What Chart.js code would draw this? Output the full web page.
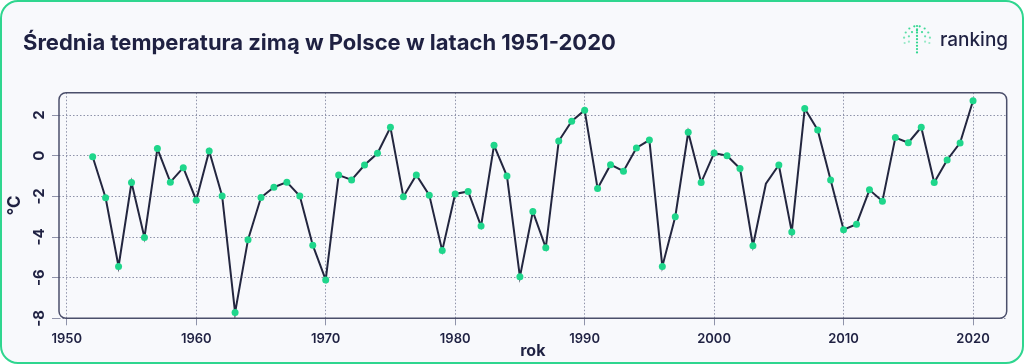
<!DOCTYPE html>
<html>
<head>
<meta charset="utf-8">
<script src="https://cdn.jsdelivr.net/npm/chart.js@4"></script>
<style>
  html, body { margin: 0; padding: 0; background: #ffffff; }
  #card {
    position: absolute; left: 0; top: 0; width: 1020px; height: 360px;
    border: 2px solid #2fd68f; border-radius: 18px; background: #f8f9fc;
  }
  #title {
    position: absolute; left: 23px; top: 29px; margin: 0;
    font-family: Inter, sans-serif; font-weight: 700; font-size: 22px;
    color: #1f2142; letter-spacing: 0; z-index: 2;
  }
  #logo { position: absolute; left: 900px; top: 22px; z-index: 2; }
  #logoText {
    position: absolute; left: 940px; top: 28px; z-index: 2;
    font-family: Inter, sans-serif; font-weight: 500; font-size: 19px; color: #1f2142;
  }
  #myChart { position: absolute; left: 0; top: 0; z-index: 1; }
</style>
</head>
<body>
<div id="card"></div>
<h1 id="title">Średnia temperatura zimą w Polsce w latach 1951-2020</h1>
<svg id="logo" width="36" height="34"></svg>
<div id="logoText">ranking</div>
<canvas id="myChart" width="1024" height="364"></canvas>
<script>
// Winter mean temperature in Poland
const years = [
  1952, 1953, 1954, 1955, 1956, 1957, 1958, 1959, 1960, 1961,
  1962, 1963, 1964, 1965, 1966, 1967, 1968, 1969, 1970, 1971,
  1972, 1973, 1974, 1975, 1976, 1977, 1978, 1979, 1980, 1981,
  1982, 1983, 1984, 1985, 1986, 1987, 1988, 1989, 1990, 1991,
  1992, 1993, 1994, 1995, 1996, 1997, 1998, 1999, 2000, 2001,
  2002, 2003, 2004, 2005, 2006, 2007, 2008, 2009, 2010, 2011,
  2012, 2013, 2014, 2015, 2016, 2017, 2018, 2019, 2020
];
const temps = [
  -0.05, -2.07, -5.45, -1.32, -4.02, 0.35, -1.30, -0.59, -2.19, 0.23,
  -1.98, -7.72, -4.13, -2.06, -1.55, -1.30, -1.98, -4.40, -6.11, -0.95,
  -1.19, -0.46, 0.12, 1.40, -2.02, -0.95, -1.94, -4.67, -1.88, -1.76,
  -3.46, 0.51, -1.00, -5.96, -2.75, -4.53, 0.72, 1.70, 2.24, -1.61,
  -0.44, -0.76, 0.38, 0.77, -5.45, -3.00, 1.15, -1.32, 0.13, 0.00,
  -0.63, -4.43, -1.38, -0.46, -3.75, 2.32, 1.27, -1.19, -3.64, -3.37,
  -1.68, -2.24, 0.89, 0.64, 1.40, -1.32, -0.21, 0.63, 2.70
];
const noMarkerYears = [2004]; // no dot drawn on the reference
const xTicks = [1950, 1960, 1970, 1980, 1990, 2000, 2010, 2020];
const yTicks = [-8, -6, -4, -2, 0, 2];

const navy = '#1f2142';

// logo: dotted fountain
const svg = document.getElementById('logo');
let dots = '';
for (let i = 0; i < 9; i++) dots += `<circle cx="17" cy="${4 + i * 3.3}" r="1.1" fill="#2fd68f"/>`;
[[13, 9], [8.5, 6]].forEach(([r, n]) => {
    for (let k = 0; k <= n; k++) {
        const a = Math.PI * (1.1 - 1.2 * k / n);
        dots += `<circle cx="${17 + r * Math.cos(a)}" cy="${17 - r * Math.sin(a)}" r="1.1" fill="#2fd68f" opacity="${0.6 + 0.4 * Math.sin(a)}"/>`;
    }
});
svg.innerHTML = dots;

// rounded frame around the plot + rotated y tick labels
const framePlugin = {
    id: 'frame',
    beforeDatasetsDraw(chart) {
        const { ctx, chartArea: a } = chart;
        ctx.save();
        ctx.strokeStyle = '#4b4f6b';
        ctx.lineWidth = 1.5;
        ctx.beginPath();
        ctx.roundRect(a.left, a.top, a.right - a.left, a.bottom - a.top, 7);
        ctx.stroke();
        ctx.restore();
    },
    afterDraw(chart) {
        const { ctx } = chart;
        const y = chart.scales.y;
        ctx.save();
        ctx.fillStyle = navy;
        ctx.font = 'bold 15px Inter, sans-serif';
        ctx.textAlign = 'center';
        ctx.textBaseline = 'middle';
        y.ticks.forEach((t) => {
            ctx.save();
            ctx.translate(39, y.getPixelForValue(t.value));
            ctx.rotate(-Math.PI / 2);
            ctx.fillText(String(t.value), 0, 0);
            ctx.restore();
        });
        ctx.restore();
    }
};

const gridStyle = { color: '#8f93aa', lineWidth: 1, tickLength: 7 };

new Chart(document.getElementById('myChart'), {
    type: 'line',
    data: {
        datasets: [{
            data: years.map((yr, i) => ({ x: yr, y: temps[i] })),
            borderColor: '#23263f',
            borderWidth: 2,
            tension: 0,
            pointBackgroundColor: '#1fd68b',
            pointBorderWidth: 0,
            pointRadius: (c) => noMarkerYears.includes(years[c.dataIndex]) ? 0 : 3.5
        }]
    },
    options: {
        responsive: false,
        animation: false,
        layout: { padding: { top: 92.7, right: 17.3, left: 0, bottom: 0 } },
        plugins: { legend: { display: false }, tooltip: { enabled: false } },
        scales: {
            x: {
                type: 'linear',
                min: 1949.4,
                max: 2022.6,
                afterBuildTicks: (s) => { s.ticks = xTicks.map((v) => ({ value: v })); },
                afterFit: (s) => { s.height = 45.7; },
                grid: gridStyle,
                border: { display: false, dash: [1.5, 2] },
                ticks: {
                    color: navy, padding: 6,
                    font: { family: 'Inter, sans-serif', size: 13, weight: '600' },
                    callback: (v) => String(v)
                },
                title: {
                    display: true, text: 'rok', color: navy,
                    font: { family: 'Inter, sans-serif', size: 16, weight: 'bold' },
                    padding: { top: 0, bottom: 3 }
                }
            },
            y: {
                min: -8.0,
                max: 3.1,
                afterBuildTicks: (s) => { s.ticks = yTicks.map((v) => ({ value: v })); },
                afterFit: (s) => { s.width = 59; },
                grid: gridStyle,
                border: { display: false, dash: [1.5, 2] },
                ticks: { display: false },
                title: {
                    display: true, text: '°C', color: navy,
                    font: { family: 'Inter, sans-serif', size: 17, weight: 'bold' },
                    padding: { top: 5, bottom: 0 }
                }
            }
        }
    },
    plugins: [framePlugin]
});
</script>
</body>
</html>
